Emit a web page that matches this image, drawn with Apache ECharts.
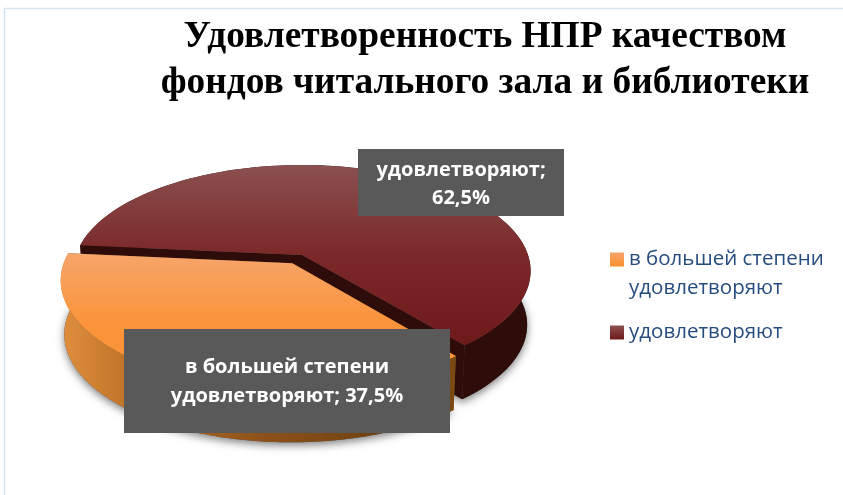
<!DOCTYPE html>
<html><head><meta charset="utf-8">
<style>html,body{margin:0;padding:0;background:#fff}#c{width:843px;height:495px}</style>
<script src="https://cdn.jsdelivr.net/npm/echarts@6/dist/echarts.min.js"></script>
</head><body><div id="c"></div>
<script>
const titleText = 'Удовлетворенность НПР качеством\nфондов читального зала и библиотеки';
const categories = ['в большей степени удовлетворяют', 'удовлетворяют'];
const percentValues = [37.5, 62.5];

const chart = echarts.init(document.getElementById('c'), null, {renderer: 'canvas'});
const LG = echarts.graphic.LinearGradient;
const total = percentValues.reduce((a, b) => a + b, 0);

// Tilted-disc projection of the pie
const P = {cx: 302, cy: 255, a: 226, b: 103.5, k: 0.15, depth: 54, shrink: 0.985, startDeg: -174.5};
function project(u, v, lower) {
  const w = 1 / (1 - P.k * v);
  const x = P.a * u * w, y = P.b * v * w;
  return lower ? [P.cx + x * P.shrink, P.cy + y + P.depth] : [P.cx + x, P.cy + y];
}
function sliceAngles(idx) {
  // maroon (index 1) starts at startDeg and runs clockwise, orange follows
  const order = [1, 0];
  let a = P.startDeg;
  for (const i of order) {
    const sw = percentValues[i] / total * 360;
    if (i === idx) return [a, a + sw];
    a += sw;
  }
}
const explode = [{d: 0.09}, {d: 0}];

const skins = [
  {
    top: new LG(0, 0, 0, 1, [{offset: 0, color: '#f6a56b'}, {offset: 0.55, color: '#fb9338'}, {offset: 1, color: '#fb9338'}]),
    wall: new LG(0, 0, 1, 0, [{offset: 0, color: '#e08e3e'}, {offset: 0.2, color: '#b96f24'}, {offset: 0.5, color: '#8e521a'}, {offset: 0.85, color: '#6a3f10'}, {offset: 1, color: '#7a4a10'}]),
    cut: '#7a4a12'
  },
  {
    top: new LG(0, 0, 0, 1, [{offset: 0, color: '#8b5050'}, {offset: 0.5, color: '#7b2828'}, {offset: 1, color: '#6f1a1a'}]),
    wall: '#2e0c0a',
    cut: '#2e0c0a'
  }
];
const boxes = [
  {x: 124, y: 329, width: 326, height: 104, dy: 1, lh: 29, lines: (n, p) => n.replace('степени ', 'степени\n') + '; ' + p},
  {x: 358, y: 149, width: 206, height: 67, dy: 1.5, lh: 28, lines: (n, p) => n + ';\n' + p}
];

function renderSlice(idx) {
  return function (params, api) {
    const val = api.value(0);
    const [a0] = sliceAngles(idx);
    const sweep = val / total * 360;
    const mid = (a0 + a0 + sweep) / 2 * Math.PI / 180;
    const ox = Math.cos(mid) * explode[idx].d, oy = Math.sin(mid) * explode[idx].d;
    const topArc = [], lowArc = [];
    const n = 120;
    for (let i = 0; i <= n; i++) {
      const t = (a0 + sweep * i / n) * Math.PI / 180;
      topArc.push(project(ox + Math.cos(t), oy + Math.sin(t), false));
      lowArc.push(project(ox + Math.cos(t), oy + Math.sin(t), true));
    }
    const apexT = project(ox, oy, false), apexL = project(ox, oy, true);
    const s = skins[idx], b = boxes[idx];
    const pct = val.toFixed(1).replace('.', ',') + '%';
    const wallPts = topArc.concat(lowArc.slice().reverse());
    return {
      type: 'group',
      children: [
        {type: 'polygon', shape: {points: lowArc.concat([apexL])},
          style: {fill: '#555', shadowBlur: 8, shadowColor: 'rgba(0,0,0,0.5)', shadowOffsetY: 3}},
        {type: 'polygon', shape: {points: wallPts}, style: {fill: s.wall}},
        {type: 'polygon', shape: {points: [topArc[0], apexT, apexL, lowArc[0]]}, style: {fill: s.cut}},
        {type: 'polygon', shape: {points: [topArc[n], apexT, apexL, lowArc[n]]}, style: {fill: s.cut}},
        {type: 'polygon', shape: {points: topArc.concat([apexT])}, style: {fill: s.top}},
        {type: 'rect', shape: {x: b.x, y: b.y, width: b.width, height: b.height}, style: {fill: '#595959'}},
        {type: 'text', style: {
          x: b.x + b.width / 2, y: b.y + b.height / 2 + b.dy,
          text: b.lines(categories[idx], pct),
          align: 'center', verticalAlign: 'middle',
          fill: '#fff', fontFamily: '"Open Sans"', fontWeight: 700, fontSize: 20, lineHeight: b.lh
        }}
      ]
    };
  };
}

chart.setOption({
  animation: false,
  backgroundColor: '#ffffff',
  title: {
    text: titleText, left: 480, top: 9, textAlign: 'center',
    textStyle: {fontFamily: '"Liberation Serif"', fontWeight: 700, fontSize: 37.4, lineHeight: 46, color: '#000'}
  },
  legend: {
    orient: 'vertical', left: 605, top: 211, itemGap: 15, itemWidth: 14, itemHeight: 14, selectedMode: false,
    formatter: n => n.indexOf('степени ') >= 0 ? ' \n' + n.replace('степени ', 'степени\n') : n,
    textStyle: {fontFamily: '"Open Sans"', fontSize: 20.5, lineHeight: 29, color: '#264c7f'},
    data: [
      {name: categories[0], icon: 'rect', itemStyle: {color: new LG(0, 0, 0, 1, [{offset: 0, color: '#f6a56b'}, {offset: 1, color: '#fb8f2e'}])}},
      {name: categories[1], icon: 'rect', itemStyle: {color: new LG(0, 0, 0, 1, [{offset: 0, color: '#8b5050'}, {offset: 1, color: '#6f1a1a'}])}}
    ]
  },
  graphic: [
    {type: 'line', shape: {x1: 4, y1: 8.5, x2: 843, y2: 8.5}, style: {stroke: '#d5e4f3', lineWidth: 1.5}, silent: true},
    {type: 'line', shape: {x1: 4.5, y1: 8, x2: 4.5, y2: 495}, style: {stroke: '#d5e4f3', lineWidth: 1.5}, silent: true}
  ],
  series: [1, 0].map(i => ({
    type: 'custom', name: categories[i], coordinateSystem: 'none', silent: true,
    z: i === 1 ? 2 : 3,
    renderItem: renderSlice(i),
    data: [[percentValues[i]]]
  }))
});
</script></body></html>
